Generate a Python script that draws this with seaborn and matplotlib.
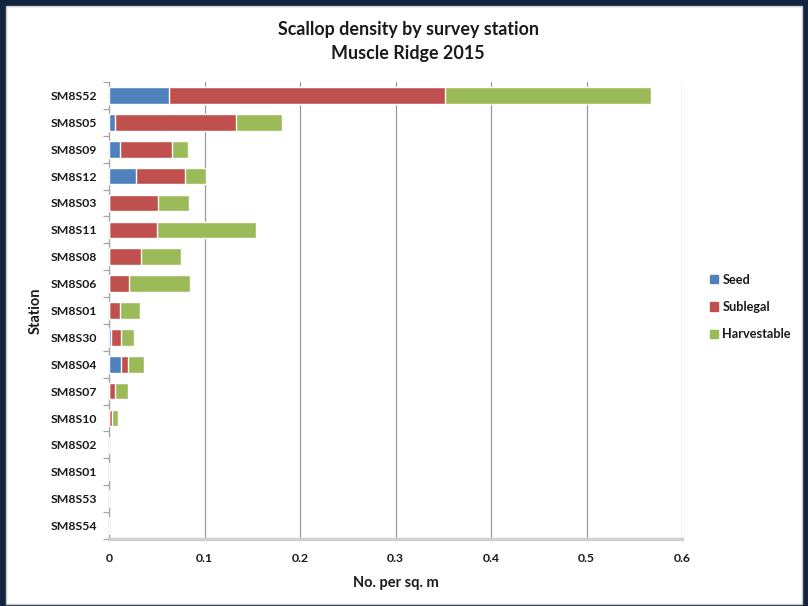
import matplotlib
matplotlib.use("Agg")
import matplotlib.pyplot as plt
import matplotlib.patches as mpatches
import seaborn as sns
import pandas as pd
import numpy as np

stations = ["SM8S52", "SM8S05", "SM8S09", "SM8S12", "SM8S03", "SM8S11", "SM8S08",
            "SM8S06", "SM8S01", "SM8S30", "SM8S04", "SM8S07", "SM8S10", "SM8S02",
            "SM8S01 ", "SM8S53", "SM8S54"]
seed = [0.063, 0.006, 0.011, 0.028, 0.0, 0.0, 0.0, 0.0, 0.0, 0.0024, 0.013, 0.0, 0.0, 0, 0, 0, 0]
sublegal = [0.289, 0.127, 0.055, 0.052, 0.051, 0.050, 0.034, 0.021, 0.012, 0.0098, 0.0066, 0.006, 0.0028, 0, 0, 0, 0]
harvestable = [0.2155, 0.048, 0.017, 0.022, 0.033, 0.104, 0.041, 0.064, 0.020, 0.0137, 0.0167, 0.0142, 0.0062, 0, 0, 0, 0]

colors = {"Seed": "#4F81BD", "Sublegal": "#C0504D", "Harvestable": "#9BBB59"}

sns.set_theme(style="white")
plt.rcParams["font.family"] = ["Lato", "DejaVu Sans"]

df = pd.DataFrame({"Station": stations, "Seed": seed, "Sublegal": sublegal,
                   "Harvestable": harvestable})
df["c1"] = df["Seed"]
df["c2"] = df["Seed"] + df["Sublegal"]
df["c3"] = df["c2"] + df["Harvestable"]

fig = plt.figure(figsize=(8.08, 6.06), dpi=100)
fig.patch.set_facecolor("#12243F")
bg = mpatches.Rectangle((6 / 808, 2 / 606), 796 / 808, 598 / 606,
                        transform=fig.transFigure, facecolor="white",
                        edgecolor="#C8C8C8", linewidth=1, zorder=-10)
fig.patches.append(bg)

ax = fig.add_axes([109 / 808, 1 - 539 / 606, 573 / 808, 457 / 606])
ax.set_zorder(5)
ax.set_facecolor("white")

sns.barplot(data=df, y="Station", x="c3", color=colors["Harvestable"], orient="h",
            width=0.62, ax=ax, saturation=1, zorder=3)
sns.barplot(data=df, y="Station", x="c2", color=colors["Sublegal"], orient="h",
            width=0.62, ax=ax, saturation=1, zorder=3)
sns.barplot(data=df, y="Station", x="c1", color=colors["Seed"], orient="h",
            width=0.62, ax=ax, saturation=1, zorder=3)

ax.set_xlim(0, 0.6)
ax.set_ylim(len(stations) - 0.5, -0.5)
ax.set_xticks([0, 0.1, 0.2, 0.3, 0.4, 0.5, 0.6])
ax.set_xticklabels(["0", "0.1", "0.2", "0.3", "0.4", "0.5", "0.6"])
ax.xaxis.grid(True, color="#9A9A9A", linewidth=0.9, zorder=0)
ax.set_axisbelow(True)

for s in ["top", "right"]:
    ax.spines[s].set_visible(False)
ax.spines["left"].set_color("#A6A6A6")
ax.spines["left"].set_linewidth(0.9)
ax.spines["bottom"].set_color("#D0D0D0")
ax.spines["bottom"].set_linewidth(2.5)

ax.set_yticks(np.arange(len(stations)))
ax.set_yticklabels([s.strip() for s in stations])
ax.tick_params(axis="y", length=0, pad=8.5, labelsize=8.8)
ax.tick_params(axis="x", length=0, pad=10, labelsize=8.8)
for lab in ax.get_yticklabels() + ax.get_xticklabels():
    lab.set_fontweight("bold")
    lab.set_color("#1A1A1A")
ax.set_yticks(np.arange(len(stations) + 1) - 0.5, minor=True)
ax.tick_params(axis="y", which="minor", length=4, color="#A6A6A6", width=0.9, left=True)

ax.set_xlabel("No. per sq. m", fontsize=10.5, fontweight="bold", labelpad=9, color="#1A1A1A")
ax.set_ylabel("Station", fontsize=10.5, fontweight="bold", labelpad=6, color="#1A1A1A")

fig.text(408 / 808, 1 - 30 / 606, "Scallop density by survey station", ha="center",
         va="center", fontsize=12.9, fontweight="bold", color="#1A1A1A")
fig.text(408 / 808, 1 - 53 / 606, "Muscle Ridge 2015", ha="center",
         va="center", fontsize=12.9, fontweight="bold", color="#1A1A1A")

handles = [mpatches.Patch(color=colors[k], label=k) for k in ["Seed", "Sublegal", "Harvestable"]]
leg = fig.legend(handles=handles, loc="center left", bbox_to_anchor=(698 / 808, 1 - 307 / 606),
                 frameon=False, handlelength=0.65, handleheight=0.65, handletextpad=0.35,
                 labelspacing=1.2, prop={"weight": "bold", "size": 9.2})
for t in leg.get_texts():
    t.set_color("#1A1A1A")

fig.savefig("out.png", dpi=100, facecolor=fig.get_facecolor())
